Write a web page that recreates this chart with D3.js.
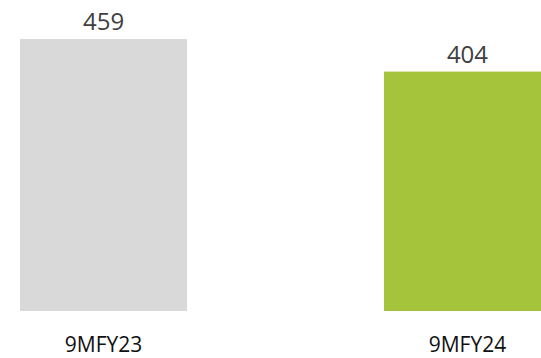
<!DOCTYPE html>
<html>
<head>
<meta charset="utf-8">
<script src="https://cdn.jsdelivr.net/npm/d3@7"></script>
<style>
  body { margin: 0; background: #fff; }
  svg { display: block; font-family: "Open Sans", "Noto Sans", sans-serif; }
</style>
</head>
<body>
<div id="chart"></div>
<script>
const periods = ["9MFY23", "9MFY24"];
const values = [459, 404];
const barColors = ["#d9d9d9", "#a6c43b"];

const W = 541, H = 358;
const baseY = 311, topY = 39;

const svg = d3.select("#chart").append("svg")
  .attr("width", W)
  .attr("height", H);

// band scale: bar width 167, step 364, second bar runs off the right edge
const x = d3.scaleBand()
  .domain(periods)
  .range([20, 551])
  .paddingInner(0.541)
  .paddingOuter(0);

const y = d3.scaleLinear()
  .domain([0, d3.max(values)])
  .range([baseY, topY]);

const data = periods.map((p, i) => ({ p, v: values[i], c: barColors[i] }));

svg.selectAll("rect.bar")
  .data(data)
  .join("rect")
    .attr("class", "bar")
    .attr("x", d => x(d.p))
    .attr("y", d => y(d.v))
    .attr("width", x.bandwidth())
    .attr("height", d => y(0) - y(d.v))
    .attr("fill", d => d.c);

// value labels above bars
svg.selectAll("text.val")
  .data(data)
  .join("text")
    .attr("class", "val")
    .attr("x", d => x(d.p) + x.bandwidth() / 2)
    .attr("y", d => y(d.v) - 9)
    .attr("text-anchor", "middle")
    .attr("font-size", 24)
    .attr("fill", "#404040")
    .text(d => d.v);

// category labels
svg.selectAll("text.cat")
  .data(data)
  .join("text")
    .attr("class", "cat")
    .attr("x", d => x(d.p) + x.bandwidth() / 2)
    .attr("y", 352)
    .attr("text-anchor", "middle")
    .attr("font-size", 21)
    .attr("fill", "#111")
    .text(d => d.p);
</script>
</body>
</html>
